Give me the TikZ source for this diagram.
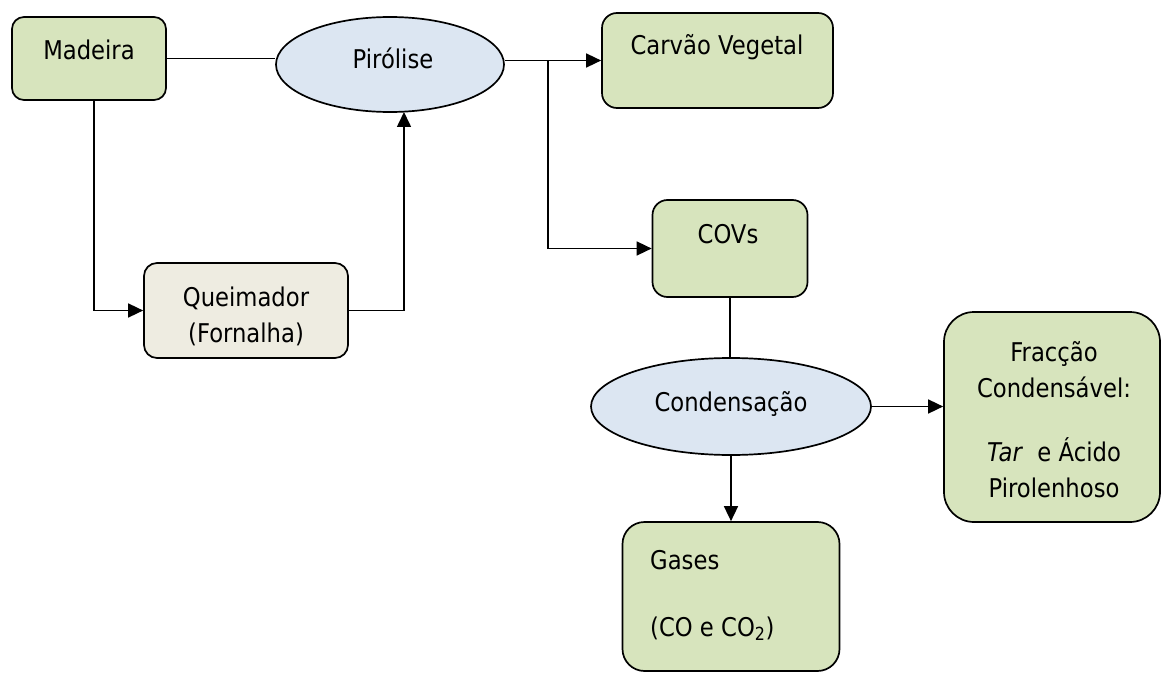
\documentclass[tikz,border=0pt]{standalone}
\usepackage{fontspec}
\setmainfont{DejaVu Sans}[FakeStretch=0.88]
\usetikzlibrary{arrows.meta,shapes.geometric,calc}
\definecolor{boxgreen}{HTML}{D7E4BD}
\definecolor{boxbeige}{HTML}{EEECE1}
\definecolor{ellblue}{HTML}{DCE6F2}
\begin{document}
\begin{tikzpicture}[x=1pt,y=-1pt,
  font=\fontsize{25.8}{36}\selectfont,
  gbox/.style={draw=black, line width=1.7pt, fill=boxgreen, inner sep=0pt},
  bbox/.style={draw=black, line width=1.7pt, fill=boxbeige, inner sep=0pt},
  oval/.style={ellipse, draw=black, line width=1.7pt, fill=ellblue, inner sep=0pt},
  txt/.style={inner sep=0pt, align=center},
  conn/.style={line width=1.6pt},
  arr/.style={line width=1.6pt, -{Triangle[length=15pt,width=14pt]}}]
\useasboundingbox (0,0) rectangle (1162,674);
% shapes
\node[gbox, rounded corners=12pt, minimum width=154pt, minimum height=83pt] (madeira) at (89,58.5) {};
\node[oval, minimum width=228pt, minimum height=95pt] (pirolise) at (390,64.5) {};
\node[gbox, rounded corners=15pt, minimum width=231pt, minimum height=95pt] (carvao) at (717.5,60.5) {};
\node[gbox, rounded corners=15pt, minimum width=155pt, minimum height=97pt] (covs) at (730,248.5) {};
\node[bbox, rounded corners=13pt, minimum width=204pt, minimum height=95pt] (queim) at (246,310.5) {};
\node[oval, minimum width=280pt, minimum height=97pt] (cond) at (731,406.5) {};
\node[gbox, rounded corners=30pt, minimum width=216pt, minimum height=210pt] (fracc) at (1052,417) {};
\node[gbox, rounded corners=22pt, minimum width=217pt, minimum height=149pt] (gases) at (731,596.5) {};
% texts
\node[txt] (madeiraT) at (89,50) {Madeira};
\node[txt] (piroliseT) at (393,58) {Pirólise};
\node[txt] (carvaoT) at (717,47) {Carvão Vegetal};
\node[txt] (covsT) at (728,234) {COVs};
\node[txt, anchor=base] (queimT) at (246,342) {Queimador\\(Fornalha)};
\node[txt, anchor=base] (condT) at (731,411) {Condensação};
\node[txt, anchor=base] (fraccT) at (1054,497) {Fracção\\Condensável:\\[28pt]\textit{Tar}\ \ e Ácido\\Pirolenhoso};
\node[txt, anchor=base west, align=left] (gasesT) at (650,636) {Gases\\[31pt](CO e CO\textsubscript{2})};
% connectors
\coordinate (j1) at (548,60.5);
\coordinate (pb) at (404,112);
\draw[conn] (madeira.east) -- (madeira.east -| pirolise.west);
\draw[arr] (pirolise.east |- carvao.west) -- (carvao.west);
\draw[arr] (j1) |- (covs.west);
\draw[arr] ([xshift=5pt]madeira.south) |- (queim.west);
\draw[arr] (queim.east) -| (pb);
\draw[conn] (covs.south) -- (covs.south |- cond.north);
\draw[arr] (cond.south) -- (gases.north);
\draw[arr] (cond.east) -- (cond.east -| fracc.west);
\end{tikzpicture}
\end{document}
